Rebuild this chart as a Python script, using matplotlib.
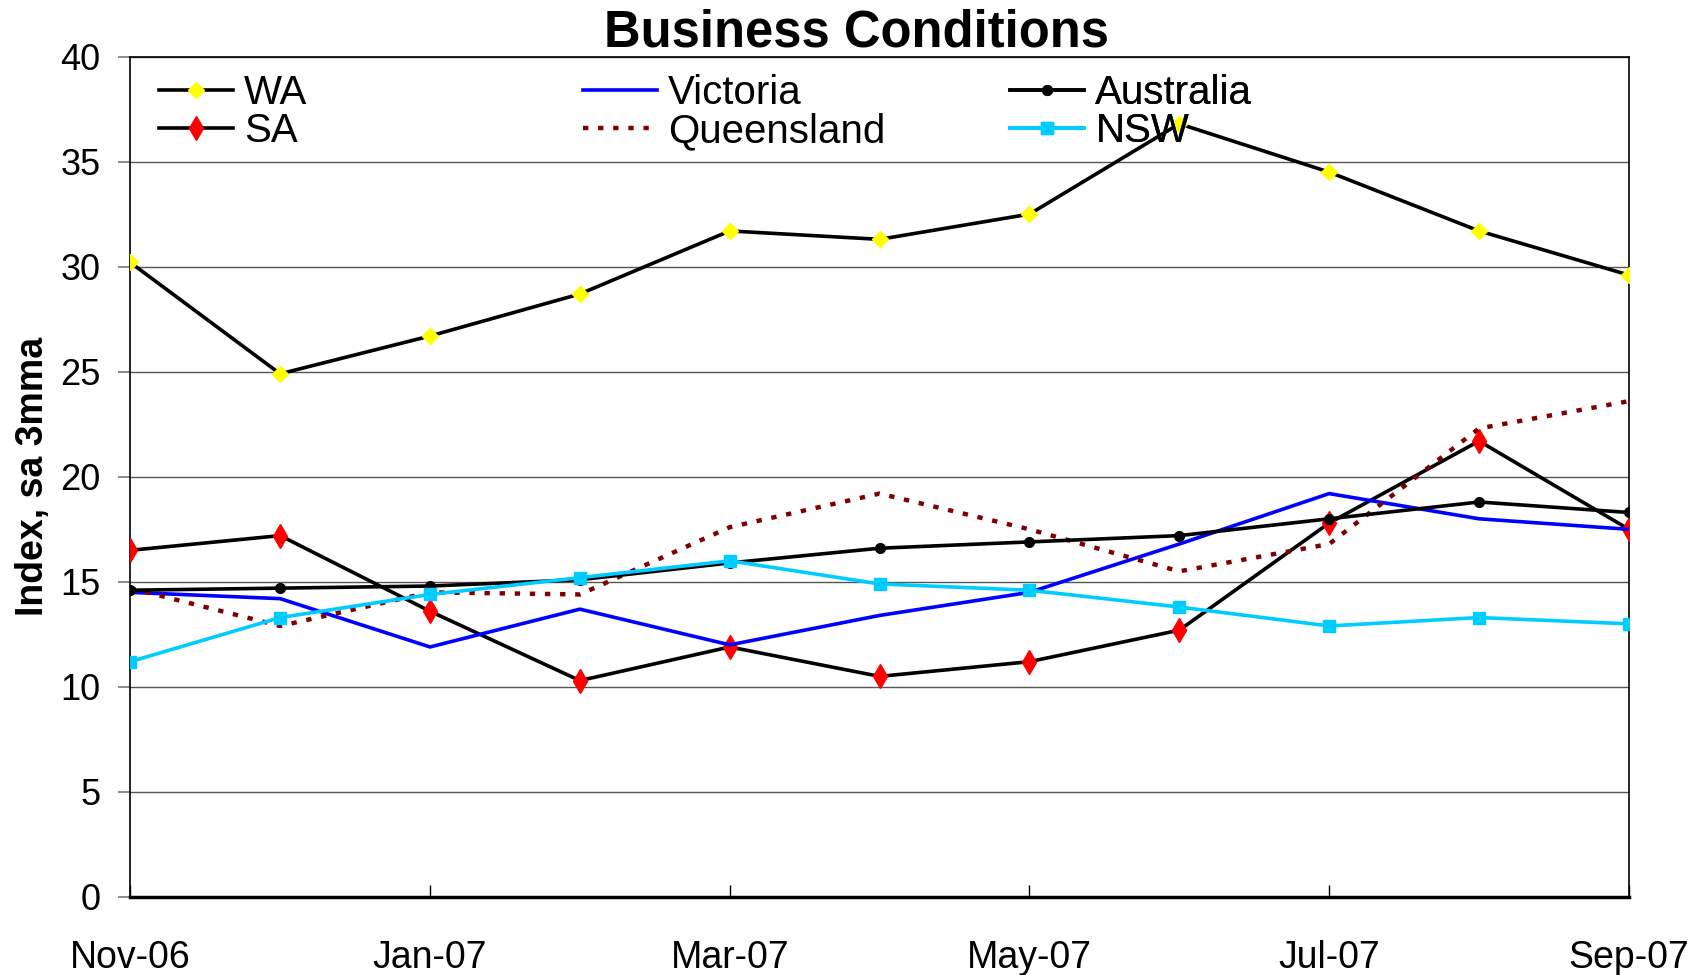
import matplotlib
matplotlib.use("Agg")
import matplotlib.pyplot as plt

plt.rcParams["font.family"] = ["Liberation Sans", "DejaVu Sans"]

months = ["Nov-06", "Dec-06", "Jan-07", "Feb-07", "Mar-07", "Apr-07",
          "May-07", "Jun-07", "Jul-07", "Aug-07", "Sep-07"]
wa = [30.2, 24.9, 26.7, 28.7, 31.7, 31.3, 32.5, 36.8, 34.5, 31.7, 29.6]
sa = [16.5, 17.2, 13.6, 10.3, 11.9, 10.5, 11.2, 12.7, 17.8, 21.7, 17.5]
victoria = [14.5, 14.2, 11.9, 13.7, 12.0, 13.4, 14.5, 16.8, 19.2, 18.0, 17.5]
queensland = [14.7, 12.9, 14.5, 14.4, 17.6, 19.2, 17.5, 15.5, 16.8, 22.3, 23.6]
australia = [14.6, 14.7, 14.8, 15.1, 15.9, 16.6, 16.9, 17.2, 18.0, 18.8, 18.3]
nsw = [11.2, 13.3, 14.4, 15.2, 16.0, 14.9, 14.6, 13.8, 12.9, 13.3, 13.0]

x = list(range(len(months)))

fig = plt.figure(figsize=(17.03, 9.75), dpi=100)
ax = fig.add_axes([0.0765, 0.080, 0.880, 0.862])

ax.plot(x, wa, color="black", lw=2.6, marker="D", ms=8.5, mfc="#FFFF00",
        mec="#FFFF00", zorder=3, label="WA")
ax.plot(x, sa, color="black", lw=2.6, marker="d", ms=12, mfc="#FF0000",
        mec="#FF0000", zorder=3, label="SA")
ax.plot(x, victoria, color="#0000FF", lw=2.6, zorder=3, label="Victoria")
ax.plot(x, queensland, color="#800000", lw=3.2, ls=(0, (1.2, 2.2)),
        zorder=3, label="Queensland")
ax.plot(x, australia, color="black", lw=2.6, marker="o", ms=7,
        mfc="black", mec="black", zorder=3, label="Australia")
ax.plot(x, nsw, color="#00CCFF", lw=2.6, marker="s", ms=8, mfc="#00CCFF",
        mec="#00CCFF", zorder=3, label="NSW")

ax.set_xlim(0, 10)
ax.set_ylim(0, 40)
ax.set_yticks(range(0, 41, 5))
ax.set_xticks(x[::2])
ax.set_xticklabels(months[::2])
ax.yaxis.grid(True, color="#555555", lw=1.0)
ax.set_axisbelow(True)

ax.tick_params(axis="y", direction="out", length=8.5, width=1.2,
               color="#777777", labelsize=26, pad=13)
ax.tick_params(axis="x", direction="in", length=9, width=1.0,
               labelsize=27, pad=31)
for side in ["top", "right", "left"]:
    ax.spines[side].set_linewidth(1.2)
ax.spines["bottom"].set_linewidth(2.5)

ax.set_ylabel("Index, sa 3mma", fontsize=27, fontweight="bold")
ax.yaxis.set_label_coords(-0.053, 0.5)

fig.text(0.503, 0.9666, "Business Conditions", fontsize=36.5,
         fontweight="bold", ha="center", va="center")

# three separate legend columns, spaced like the original
handles, labels = ax.get_legend_handles_labels()
legend_x = [0.019, 0.302, 0.587]
for i, lx in enumerate(legend_x):
    leg = ax.legend(handles[2 * i:2 * i + 2], labels[2 * i:2 * i + 2],
                    loc="upper left", bbox_to_anchor=(lx, 0.979),
                    fontsize=29, frameon=False,
                    handlelength=1.85, handletextpad=0.27, labelspacing=0.0,
                    borderpad=0, borderaxespad=0)
    ax.add_artist(leg)

fig.savefig("out.png", dpi=100)
